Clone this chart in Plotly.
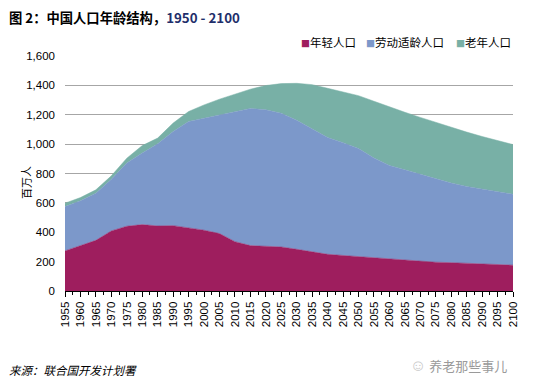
import plotly.graph_objects as go

years = list(range(1955, 2101, 5))
young = [273, 307, 345, 409, 441, 452, 443, 445, 432, 414, 391, 336, 309, 307, 300,
         284, 268, 250, 242, 234, 225, 216, 207, 200, 196, 193, 190, 186, 181, 176]
young_plus_working = [575, 614, 666, 761, 871, 940, 1002, 1086, 1154, 1177, 1200, 1225, 1243, 1234, 1210,
                      1162, 1102, 1045, 1010, 970, 905, 855, 825, 795, 765, 735, 712, 693, 676, 659]
total = [598, 636, 689, 784, 904, 990, 1041, 1143, 1222, 1267, 1306, 1342, 1374, 1399, 1412,
         1414, 1405, 1380, 1355, 1330, 1292, 1252, 1217, 1182, 1148, 1114, 1082, 1052, 1024, 997]
working = [a - b for a, b in zip(young_plus_working, young)]
old = [a - b for a, b in zip(total, young_plus_working)]

series_names = ["年轻人口", "劳动适龄人口", "老年人口"]
colors = ["#9E1E5E", "#7C98CA", "#78B0A6"]
y_ticks = [0, 200, 400, 600, 800, 1000, 1200, 1400, 1600]
y_tick_labels = ["0", "200", "400", "600", "800", "1,000", "1,200", "1,400", "1,600"]

FONT = "'Liberation Sans', Arial, 'Noto Sans CJK SC', sans-serif"
CJK = "'Noto Sans CJK SC', sans-serif"

W, H = 533, 387
L, R, T, B = 65, 20, 56, 96
PW, PH = W - L - R, H - T - B


def px_x(x):
    return (x - L) / PW


def px_y(y):
    return (H - B - y) / PH


fig = go.Figure()
for name, vals, col in zip(series_names, [young, working, old], colors):
    fig.add_trace(go.Scatter(
        x=years, y=vals, name=name, stackgroup="one", mode="lines",
        line=dict(width=0.5, color=col), fillcolor=col, showlegend=False,
    ))

fig.update_layout(
    width=W, height=H,
    margin=dict(l=L, r=R, t=T, b=B, autoexpand=False),
    paper_bgcolor="white", plot_bgcolor="white",
    font=dict(family=FONT, size=11, color="#000"),
    showlegend=False,
    xaxis=dict(range=[1955, 2100], tickmode="linear", tick0=1955, dtick=5,
               tickangle=-90, showgrid=False, zeroline=False,
               ticks="outside", ticklen=5, tickcolor="#000", tickwidth=1,
               showline=True, linecolor="#000", linewidth=1,
               minor=dict(ticks="outside", ticklen=3, tickcolor="#000", dtick=2.5, tick0=1955),
               tickfont=dict(size=11.5, family=FONT)),
    yaxis=dict(range=[0, 1600], tickvals=y_ticks, ticktext=y_tick_labels,
               showgrid=True, gridcolor="#A6A6A6", gridwidth=1, zeroline=False,
               showline=False, ticks="", tickfont=dict(size=11.5, family=FONT), ticklabelstandoff=9),
)

# y-axis title
fig.add_annotation(
    xref="paper", yref="paper", x=px_x(26), y=px_y(183), xanchor="center", yanchor="middle",
    text="百万人", textangle=-90,
    showarrow=False, font=dict(size=11, family=CJK, color="#000"),
)
# title
fig.add_annotation(
    xref="paper", yref="paper", x=px_x(7), y=px_y(17), xanchor="left", yanchor="middle",
    text="<b>图 2：中国人口年龄结构，<span style='color:#1F2F6B'>1950 - 2100</span></b>",
    showarrow=False, font=dict(size=13.3, family=CJK, color="#000"),
)
# legend (drawn as text)
legend_x = [299, 364, 454]
for name, col, lx in zip(series_names, colors, legend_x):
    fig.add_annotation(
        xref="paper", yref="paper", x=px_x(lx), y=px_y(42), xanchor="left", yanchor="middle",
        text=f"<span style='color:{col};font-size:9px'>■</span>{name}",
        showarrow=False, font=dict(size=11.5, family=CJK, color="#000"),
    )
# source
fig.add_annotation(
    xref="paper", yref="paper", x=px_x(7), y=px_y(370), xanchor="left", yanchor="middle",
    text="<i>来源：联合国开发计划署</i>",
    showarrow=False, font=dict(size=11.5, family=CJK, color="#000"),
)
# watermark
fig.add_annotation(
    xref="paper", yref="paper", x=px_x(509), y=px_y(364), xanchor="right", yanchor="middle",
    text="<span style='font-size:16px;color:#C8C8C8'>☺</span> 养老那些事儿",
    showarrow=False, font=dict(size=13, family=CJK, color="#9A9A9A"),
)

fig.write_html("out.html", config={"displayModeBar": False},
               post_script="document.body.style.margin='0';document.body.style.padding='0';")
